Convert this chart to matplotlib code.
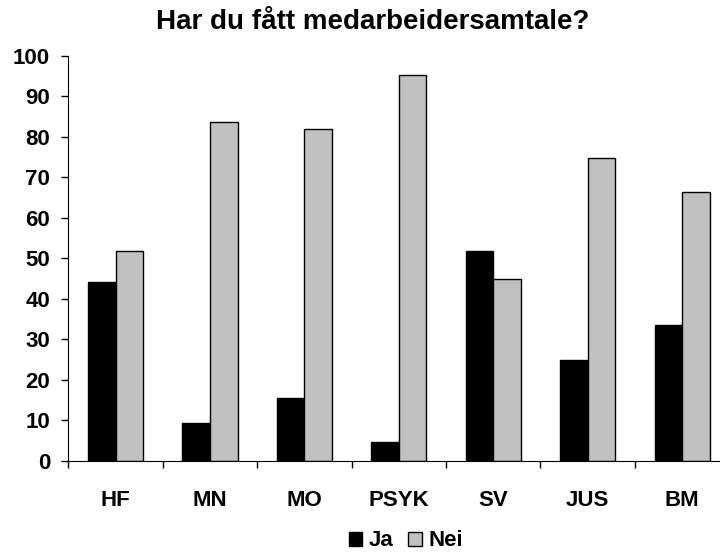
import numpy as np
import matplotlib.pyplot as plt

plt.rcParams['font.family'] = ['Liberation Sans', 'DejaVu Sans']
plt.rcParams['font.weight'] = 'bold'

categories = ["HF", "MN", "MO", "PSYK", "SV", "JUS", "BM"]
ja = [44.2, 9.3, 15.5, 4.6, 51.7, 24.8, 33.5]
nei = [51.7, 83.8, 81.9, 95.3, 44.9, 74.8, 66.4]

fig = plt.figure(figsize=(7.2, 5.52), dpi=100)
# axes runs slightly past the right edge, like the original
ax = fig.add_axes([68.3 / 720, 91.3 / 552, 661 / 720, 404.7 / 552])

x = np.arange(len(categories))
w = 0.292
ax.bar(x - w / 2, ja, w, color='black', edgecolor='black', linewidth=1, label='Ja')
ax.bar(x + w / 2, nei, w, color='#c0c0c0', edgecolor='black', linewidth=1, label='Nei')

ax.set_xlim(-0.5, len(categories) - 0.5)
ax.set_ylim(0, 100)
ax.set_yticks(range(0, 101, 10))
ax.set_xticks(x)
ax.set_xticklabels(categories)
ax.set_xticks(np.arange(-0.5, len(categories), 1), minor=True)
ax.tick_params(axis='x', which='major', length=0, pad=21, labelsize=16)
ax.tick_params(axis='x', which='minor', length=5, width=1, direction='out')
ax.tick_params(axis='y', length=5, width=1, direction='out', labelsize=16, pad=8)

for s in ['top', 'right']:
    ax.spines[s].set_visible(False)

# title is centred on the visible chart, not on the axes
fig.text(373 / 720, 1 - 22 / 552, 'Har du fått medarbeidersamtale?',
         fontsize=20, fontweight='bold', ha='center', va='center')

fig.legend(loc='center', bbox_to_anchor=(406 / 720, 1 - 541 / 552), ncol=2,
           frameon=False, fontsize=16, handlelength=0.6, handleheight=0.6,
           handletextpad=0.32, columnspacing=0.64, borderpad=0)

fig.savefig('out.png', dpi=100)
